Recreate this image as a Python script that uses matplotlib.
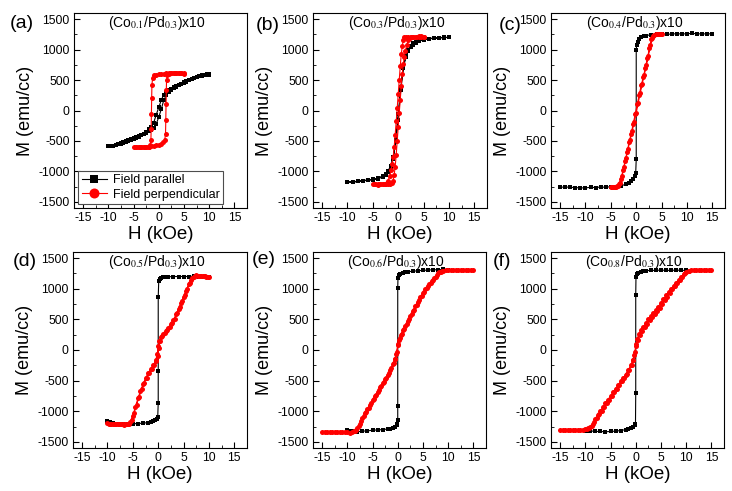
import matplotlib.pyplot as plt
from matplotlib.ticker import MultipleLocator

plt.rcParams['font.family'] = ['Liberation Sans', 'DejaVu Sans']
plt.rcParams['mathtext.fontset'] = 'stix'
plt.rcParams['axes.unicode_minus'] = False

# H in kOe, M in emu/cc
compositions = ['0.1', '0.3', '0.4', '0.5', '0.6', '0.8']
panel_labels = ['(a)', '(b)', '(c)', '(d)', '(e)', '(f)']

# (a) Co 0.1
a_par_h = [10, 9.5, 9, 8.5, 8, 7.5, 7, 6.5, 6, 5.5, 5, 4.5, 4, 3.5, 3, 2.5, 2, 1.5, 1, 0.5, 0,
           -0.5, -1, -1.5, -2, -2.5, -3, -3.5, -4, -4.5, -5, -5.5, -6, -6.5, -7, -7.5, -8, -8.5, -9, -9.5, -10,
           -9.5, -9, -8.5, -8, -7.5, -7, -6.5, -6, -5.5, -5, -4.5, -4, -3.5, -3, -2.5, -2, -1.5, -1, -0.5, 0,
           0.5, 1, 1.5, 2, 2.5, 3, 3.5, 4, 4.5, 5, 5.5, 6, 6.5, 7, 7.5, 8, 8.5, 9, 9.5, 10]
a_par_m = [590, 595, 580, 575, 560, 545, 530, 515, 495, 475, 455, 440, 420, 400, 380, 355, 335, 305, 260, 170, 50,
           -70, -200, -270, -310, -350, -380, -400, -430, -450, -470, -480, -500, -515, -530, -545, -555, -565, -575, -580, -585,
           -590, -575, -565, -550, -540, -525, -505, -490, -470, -455, -440, -425, -405, -390, -365, -340, -315, -280, -220, -110,
           20, 170, 250, 300, 335, 365, 390, 415, 440, 460, 480, 495, 510, 530, 545, 560, 570, 580, 590, 595]
a_perp_h = [5, 4.5, 4, 3.5, 3, 2.5, 2, 1.5, 1, 0.5, 0, -0.5, -0.9, -1.2, -1.35, -1.4, -1.45, -1.5, -1.55, -1.7,
            -2, -2.5, -3, -3.5, -4, -4.5, -5,
            -4.5, -4, -3.5, -3, -2.5, -2, -1.5, -1, -0.5, 0, 0.5, 0.9, 1.2, 1.35, 1.4, 1.45, 1.5, 1.55, 1.7,
            2, 2.5, 3, 3.5, 4, 4.5, 5]
a_perp_m = [605, 610, 615, 615, 615, 610, 610, 610, 605, 600, 595, 590, 575, 540, 420, 200, -50, -300, -480, -570,
            -595, -600, -600, -600, -605, -600, -600,
            -600, -600, -600, -600, -600, -595, -590, -580, -570, -560, -545, -520, -480, -380, -150, 100, 330, 500, 580,
            605, 615, 620, 620, 615, 615, 610]

# (b) Co 0.3
b_par_h = [10, 9, 8, 7, 6, 5, 4, 3.5, 3, 2.5, 2, 1.5, 1, 0.5, 0, -0.5, -1, -1.5, -2, -2.5, -3, -4, -5, -6, -7, -8, -9, -10,
           -9, -8, -7, -6, -5, -4, -3, -2.5, -2, -1.5, -1, -0.5, 0, 0.5, 1, 1.5, 2, 2.5, 3, 3.5, 4, 5, 6, 7, 8, 9, 10]
b_par_m = [1200, 1200, 1195, 1190, 1180, 1170, 1150, 1130, 1100, 1060, 1000, 900, 720, 380, -50, -480, -770, -910,
           -990, -1040, -1070, -1110, -1130, -1140, -1150, -1160, -1170, -1170,
           -1180, -1165, -1155, -1145, -1135, -1120, -1090, -1060, -1010, -930, -800, -520, -150, 330, 690, 880,
           980, 1040, 1080, 1110, 1135, 1160, 1175, 1185, 1190, 1195, 1200]
b_perp_h = [5, 4.5, 4, 3.5, 3, 2.5, 2, 1.6, 1.2, 1.0, 0.8, 0.6, 0.4, 0.2, 0, -0.2, -0.4, -0.6, -0.8, -1.0, -1.2, -1.4,
            -1.7, -2.0, -2.3, -2.6, -3, -3.5, -4, -4.5, -5,
            -4.5, -4, -3.5, -3, -2.5, -2, -1.6, -1.2, -1.0, -0.8, -0.6, -0.4, -0.2, 0, 0.2, 0.4, 0.6, 0.8, 1.0, 1.2, 1.4,
            1.7, 2.0, 2.3, 2.6, 3, 3.5, 4, 4.5, 5]
b_perp_m = [1210, 1215, 1210, 1210, 1210, 1210, 1210, 1210, 1200, 1150, 1060, 920, 730, 500, 270, 40, -180, -400, -600,
            -760, -880, -980, -1080, -1150, -1190, -1205, -1210, -1210, -1215, -1210, -1210,
            -1210, -1210, -1210, -1210, -1210, -1210, -1205, -1195, -1150, -1060, -920, -730, -500, -270, -40, 180, 400,
            600, 760, 880, 980, 1080, 1150, 1190, 1205, 1210, 1210, 1215, 1210, 1210]

# (c) Co 0.4
c_par_h = [-15, -14, -13, -12, -11, -10, -9, -8, -7, -6, -5, -4, -3, -2, -1.5, -1, -0.6, -0.3, -0.1, 0,
           0, 0.1, 0.3, 0.6, 1, 1.5, 2, 3, 4, 5, 6, 7, 8, 9, 10, 11, 12, 13, 14, 15]
c_par_m = [-1260, -1255, -1260, -1265, -1270, -1270, -1260, -1265, -1255, -1260, -1250, -1250, -1235, -1210, -1190,
           -1160, -1120, -1070, -1020, -800,
           1000, 1080, 1130, 1170, 1200, 1220, 1230, 1245, 1250, 1255, 1250, 1255, 1260, 1255, 1260, 1265, 1260,
           1255, 1260, 1255]
c_perp_h = [5, 4.6, 4.2, 3.8, 3.4, 3.0, 2.6, 2.2, 1.8, 1.4, 1.0, 0.6, 0.2, -0.2, -0.6, -1.0, -1.4, -1.8, -2.2, -2.6,
            -3.0, -3.4, -3.8, -4.2, -4.6, -5,
            -4.8, -4.4, -4.0, -3.6, -3.2, -2.8, -2.4, -2.0, -1.6, -1.2, -0.8, -0.4, 0, 0.4, 0.8, 1.2, 1.6, 2.0, 2.4,
            2.8, 3.2, 3.6, 4.0, 4.4, 4.8]
c_perp_m = [1250, 1250, 1250, 1250, 1230, 1170, 1020, 860, 700, 550, 420, 260, 100, -60, -220, -380, -520, -680,
            -830, -980, -1120, -1210, -1245, -1250, -1250, -1250,
            -1250, -1250, -1250, -1240, -1190, -1080, -930, -780, -630, -480, -340, -190, -40, 130, 290, 440, 590,
            740, 900, 1070, 1190, 1240, 1250, 1250, 1250]

# (d) Co 0.5
d_par_h = [-10, -9.5, -9, -8, -7, -6, -5, -4, -3, -2, -1.5, -1, -0.6, -0.3, -0.1, 0, 0, 0,
           0.1, 0.3, 0.6, 1, 1.5, 2, 3, 4, 5, 6, 7, 8, 9, 10]
d_par_m = [-1160, -1180, -1190, -1200, -1205, -1210, -1205, -1200, -1195, -1185, -1175, -1165, -1150, -1130, -1100,
           -860, -340, 860,
           1130, 1160, 1175, 1185, 1190, 1195, 1200, 1200, 1200, 1200, 1205, 1200, 1200, 1200]
d_perp_h = [10, 9.5, 9, 8.5, 8, 7.5, 7, 6.5, 6, 5.5, 5, 4.5, 4, 3.5, 3, 2.5, 2, 1.5, 1, 0.5, 0.2, 0, -0.2, -0.5, -1,
            -1.5, -2, -2.5, -3, -3.5, -4, -4.5, -5, -5.5, -6, -6.5, -7, -7.5, -8, -8.5, -9, -9.5, -10,
            -9.75, -9.25, -8.75, -8.25, -7.75, -7.25, -6.75, -6.25, -5.75, -5.25, -4.75, -4.25, -3.75, -3.25, -2.75,
            -2.25, -1.75, -1.25, -0.75, -0.35, -0.1, 0.1, 0.35, 0.75, 1.25, 1.75, 2.25, 2.75, 3.25, 3.75, 4.25, 4.75,
            5.25, 5.75, 6.25, 6.75, 7.25, 7.75, 8.25, 8.75, 9.25, 9.75]
d_perp_m = [1200, 1195, 1205, 1210, 1215, 1220, 1200, 1150, 1070, 970, 870, 770, 670, 580, 490, 420, 360, 310, 260,
            210, 150, 60, -70, -170, -250, -310, -380, -460, -560, -670, -790, -930, -1070, -1180, -1210, -1215,
            -1210, -1205, -1200, -1200, -1205, -1200, -1195,
            -1200, -1205, -1210, -1215, -1210, -1215, -1220, -1215, -1200, -1140, -1030, -890, -760, -640, -540,
            -450, -370, -310, -250, -180, -90, 30, 150, 230, 280, 330, 380, 440, 510, 600, 700, 800, 900, 1000,
            1100, 1170, 1205, 1215, 1215, 1210, 1205, 1200]

# (e) Co 0.6
e_par_h = [-10, -9.5, -9, -8, -7, -6, -5, -4, -3, -2, -1.5, -1, -0.5, -0.2, -0.05, 0, 0, 0,
           0.05, 0.2, 0.5, 1, 1.5, 2, 3, 4, 5, 6, 7, 8, 9, 10]
e_par_m = [-1310, -1320, -1330, -1335, -1325, -1320, -1310, -1305, -1300, -1290, -1285, -1275, -1255, -1230, -1200,
           -1150, -920, 1010,
           1180, 1220, 1245, 1260, 1270, 1280, 1285, 1295, 1300, 1305, 1310, 1310, 1315, 1310]
e_perp_h = [15, 14, 13, 12, 11, 10, 9, 8.5, 8, 7.5, 7, 6.5, 6, 5.5, 5, 4.5, 4, 3.5, 3, 2.5, 2, 1.5, 1, 0.6, 0.3, 0,
            -0.3, -0.6, -1, -1.5, -2, -2.5, -3, -3.5, -4, -4.5, -5, -5.5, -6, -6.5, -7, -7.5, -8, -8.5, -9, -10,
            -11, -12, -13, -14, -15,
            -14.5, -13.5, -12.5, -11.5, -10.5, -9.5, -8.75, -8.25, -7.75, -7.25, -6.75, -6.25, -5.75, -5.25, -4.75,
            -4.25, -3.75, -3.25, -2.75, -2.25, -1.75, -1.25, -0.8, -0.45, -0.15, 0.15, 0.45, 0.8, 1.25, 1.75, 2.25,
            2.75, 3.25, 3.75, 4.25, 4.75, 5.25, 5.75, 6.25, 6.75, 7.25, 7.75, 8.25, 8.75, 9.5, 10.5, 11.5, 12.5,
            13.5, 14.5]
e_perp_m = [1300, 1305, 1300, 1300, 1300, 1300, 1295, 1280, 1250, 1200, 1150, 1100, 1050, 1000, 930, 860, 790, 720,
            640, 560, 480, 400, 320, 250, 170, 80, -60, -150, -230, -320, -400, -470, -540, -610, -680, -750, -820,
            -890, -960, -1030, -1110, -1200, -1280, -1320, -1340, -1345, -1340, -1340, -1345, -1340, -1340,
            -1340, -1340, -1345, -1340, -1340, -1350, -1330, -1300, -1240, -1160, -1080, -1010, -940, -870, -800,
            -730, -660, -590, -520, -450, -380, -300, -220, -140, -30, 100, 190, 260, 340, 420, 500, 580, 660, 740,
            810, 880, 950, 1020, 1080, 1130, 1180, 1230, 1270, 1290, 1300, 1300, 1305, 1300, 1300, 1300]

# (f) Co 0.8
f_par_h = [-10, -9.5, -9, -8, -7, -6, -5, -4, -3, -2, -1.5, -1, -0.5, -0.2, -0.05, 0, 0,
           0.05, 0.2, 0.5, 1, 1.5, 2, 3, 4, 5, 6, 7, 8, 9, 10]
f_par_m = [-1320, -1325, -1320, -1330, -1330, -1335, -1330, -1325, -1315, -1300, -1290, -1275, -1255, -1230, -1200,
           -700, 900,
           1200, 1240, 1265, 1280, 1290, 1295, 1300, 1300, 1305, 1300, 1300, 1305, 1300, 1300]
f_perp_h = [15, 14, 13, 12, 11, 10.5, 10, 9.5, 9, 8.5, 8, 7.5, 7, 6.5, 6, 5.5, 5, 4.5, 4, 3.5, 3, 2.5, 2, 1.5, 1,
            0.6, 0.3, 0, -0.3, -0.6, -1, -1.5, -2, -2.5, -3, -3.5, -4, -4.5, -5, -5.5, -6, -6.5, -7, -7.5, -8,
            -8.5, -9, -9.5, -10, -11, -12, -13, -14, -15,
            -14.5, -13.5, -12.5, -11.5, -10.5, -9.75, -9.25, -8.75, -8.25, -7.75, -7.25, -6.75, -6.25, -5.75,
            -5.25, -4.75, -4.25, -3.75, -3.25, -2.75, -2.25, -1.75, -1.25, -0.8, -0.45, -0.15, 0.15, 0.45, 0.8,
            1.25, 1.75, 2.25, 2.75, 3.25, 3.75, 4.25, 4.75, 5.25, 5.75, 6.25, 6.75, 7.25, 7.75, 8.25, 8.75, 9.25,
            9.75, 10.5, 11.5, 12.5, 13.5, 14.5]
f_perp_m = [1300, 1300, 1305, 1300, 1300, 1290, 1270, 1240, 1200, 1150, 1100, 1050, 1000, 950, 890, 830, 770, 710,
            650, 600, 550, 500, 440, 380, 320, 260, 180, 60, -80, -170, -250, -330, -400, -460, -510, -570, -630,
            -690, -750, -810, -870, -930, -1000, -1060, -1130, -1200, -1250, -1280, -1295, -1300, -1300, -1305,
            -1300, -1300,
            -1300, -1300, -1305, -1300, -1300, -1295, -1280, -1240, -1180, -1110, -1050, -990, -930, -870, -810,
            -750, -690, -630, -570, -510, -450, -390, -320, -240, -160, -40, 90, 170, 240, 310, 370, 430, 490,
            540, 590, 640, 690, 750, 810, 870, 930, 990, 1040, 1100, 1150, 1200, 1250, 1285, 1300, 1300, 1305, 1300]

par_h = [a_par_h, b_par_h, c_par_h, d_par_h, e_par_h, f_par_h]
par_m = [a_par_m, b_par_m, c_par_m, d_par_m, e_par_m, f_par_m]
perp_h = [a_perp_h, b_perp_h, c_perp_h, d_perp_h, e_perp_h, f_perp_h]
perp_m = [a_perp_m, b_perp_m, c_perp_m, d_perp_m, e_perp_m, f_perp_m]

W, H = 732, 491
# axes boxes in pixels: left, top, right, bottom
boxes = [(74, 13, 247, 208), (313, 13, 487, 208), (551, 13, 725, 208),
         (73, 252, 247, 448), (313, 252, 486, 448), (551, 252, 724, 448)]
label_xy = [(10, 24), (256, 26), (499, 25), (13, 262), (252, 260), (493, 261)]


def main():
    fig = plt.figure(figsize=(W / 100, H / 100), dpi=100)

    for i in range(6):
        l, t, r, b = boxes[i]
        ax = fig.add_axes([l / W, 1 - b / H, (r - l) / W, (b - t) / H])
        ax.plot(par_h[i], par_m[i], '-s', color='black', ms=3.2, lw=0.8, mew=0,
                label='Field parallel')
        ax.plot(perp_h[i], perp_m[i], '-o', color='red', ms=3.6, lw=0.8, mew=0,
                label='Field perpendicular')

        ax.set_xlim(-16.8, 17.5)
        ax.set_ylim(-1600, 1600)
        ax.xaxis.set_major_locator(MultipleLocator(5))
        ax.xaxis.set_minor_locator(MultipleLocator(2.5))
        ax.yaxis.set_major_locator(MultipleLocator(500))
        ax.yaxis.set_minor_locator(MultipleLocator(250))
        ax.tick_params(which='both', direction='in', labelsize=8.8, pad=3)
        ax.tick_params(which='major', length=4)
        ax.tick_params(which='minor', length=2)
        ax.set_xlabel('H (kOe)', fontsize=13.5, labelpad=1)
        ax.set_ylabel('M (emu/cc)', fontsize=13, labelpad=3)

        title = '(Co$_{%s}$/Pd$_{0.3}$)x10' % compositions[i]
        ax.text(0.48, 0.995, title, transform=ax.transAxes, ha='center', va='top', fontsize=10)

        lx, ly = label_xy[i]
        fig.text(lx / W, 1 - ly / H, panel_labels[i], ha='left', va='center', fontsize=14)

        if i == 0:
            leg = ax.legend(loc='lower left', fontsize=9, markerscale=2.0, handlelength=2.0,
                            labelspacing=0.2, borderpad=0.25, handletextpad=0.5,
                            borderaxespad=0.35, fancybox=False, framealpha=1)
            leg.get_frame().set_edgecolor('0.3')
            leg.get_frame().set_linewidth(0.8)

    fig.savefig('out.png', dpi=100)


if __name__ == "__main__":
    main()
